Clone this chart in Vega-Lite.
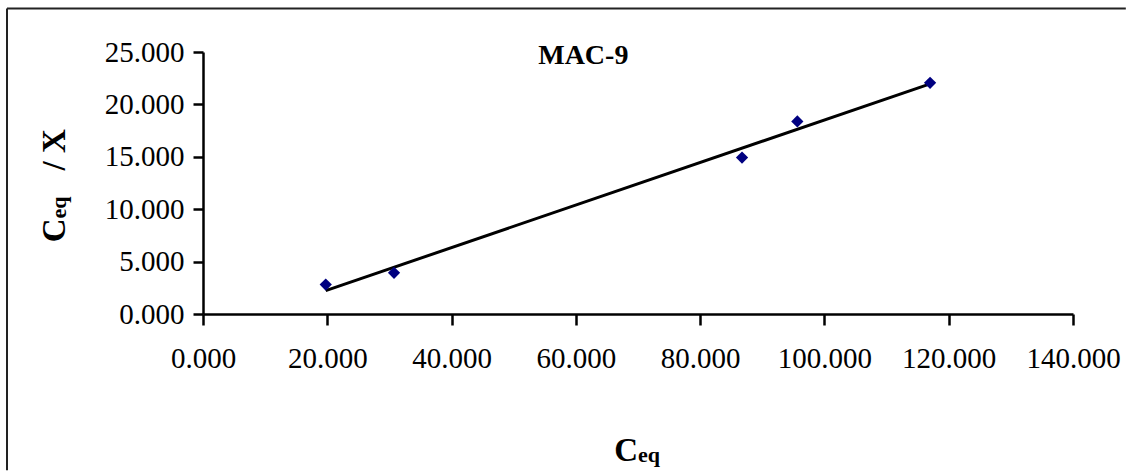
{
  "$schema": "https://vega.github.io/schema/vega-lite/v6.json",
  "width": 870,
  "height": 262,
  "padding": {"left": 6, "top": 7, "right": 0, "bottom": 0},
  "autosize": {"type": "pad"},
  "background": "white",
  "config": {
    "view": {"stroke": null},
    "font": "Liberation Serif",
    "axis": {
      "grid": false,
      "labelFont": "Liberation Serif",
      "labelFontSize": 29,
      "labelColor": "#000",
      "domainColor": "#000",
      "domainWidth": 2.5,
      "tickColor": "#000",
      "tickWidth": 2.5,
      "labelOverlap": false,
      "labelFlush": false,
      "title": null
    }
  },
  "data": {
    "values": [
      {"ceq": 19.75, "ratio": 2.81},
      {"ceq": 30.74, "ratio": 3.93},
      {"ceq": 86.74, "ratio": 14.93},
      {"ceq": 95.64, "ratio": 18.37},
      {"ceq": 117.0, "ratio": 22.06}
    ]
  },
  "layer": [
    {
      "transform": [{"regression": "ratio", "on": "ceq"}],
      "mark": {"type": "line", "color": "#000", "strokeWidth": 3},
      "encoding": {
        "x": {
          "field": "ceq", "type": "quantitative",
          "scale": {"domain": [0, 140], "nice": false, "zero": false},
          "axis": {"values": [0, 20, 40, 60, 80, 100, 120, 140], "format": ".3f", "tickSize": 11, "labelPadding": 19, "title": null}
        },
        "y": {
          "field": "ratio", "type": "quantitative",
          "scale": {"domain": [0, 25], "nice": false, "zero": false},
          "axis": {"values": [0, 5, 10, 15, 20, 25], "format": ".3f", "tickSize": 10, "labelPadding": 9, "title": null}
        }
      }
    },
    {
      "mark": {"type": "point", "shape": "diamond", "filled": true, "color": "#000080", "size": 150, "opacity": 1},
      "encoding": {
        "x": {"field": "ceq", "type": "quantitative"},
        "y": {"field": "ratio", "type": "quantitative"}
      }
    },
    {
      "data": {"values": [{}]},
      "mark": {"type": "rule", "color": "#222", "strokeWidth": 2},
      "encoding": {"x": {"datum": -31.54}, "y": {"datum": 29.15}, "y2": {"datum": -14.9}}
    },
    {
      "data": {"values": [{}]},
      "mark": {"type": "rule", "color": "#222", "strokeWidth": 2},
      "encoding": {"y": {"datum": 29.15}, "x": {"datum": -31.54}, "x2": {"datum": 148.5}}
    },
    {
      "data": {"values": [{}]},
      "mark": {"type": "text", "text": "MAC-9", "font": "Liberation Serif", "fontWeight": "bold", "fontSize": 28, "align": "center", "baseline": "alphabetic", "color": "#000"},
      "encoding": {"x": {"datum": 61.2}, "y": {"datum": 23.9}}
    },
    {
      "data": {"values": [{}]},
      "mark": {"type": "text", "text": "C", "font": "Liberation Serif", "fontWeight": "bold", "fontSize": 33, "align": "right", "baseline": "alphabetic", "color": "#000"},
      "encoding": {"x": {"datum": 70}, "y": {"datum": -14.07}}
    },
    {
      "data": {"values": [{}]},
      "mark": {"type": "text", "text": "eq", "font": "Liberation Serif", "fontWeight": "bold", "fontSize": 22, "align": "left", "baseline": "alphabetic", "color": "#000", "dy": 1},
      "encoding": {"x": {"datum": 70}, "y": {"datum": -14.07}}
    },
    {
      "data": {"values": [{}]},
      "mark": {"type": "text", "text": "C", "font": "Liberation Serif", "fontWeight": "bold", "fontSize": 33, "align": "right", "baseline": "alphabetic", "angle": 270, "color": "#000"},
      "encoding": {"x": {"datum": -22.2}, "y": {"datum": 9.11}}
    },
    {
      "data": {"values": [{}]},
      "mark": {"type": "text", "text": "eq", "font": "Liberation Serif", "fontWeight": "bold", "fontSize": 22, "align": "left", "baseline": "alphabetic", "angle": 270, "color": "#000", "dy": 1},
      "encoding": {"x": {"datum": -22.2}, "y": {"datum": 9.11}}
    },
    {
      "data": {"values": [{}]},
      "mark": {"type": "text", "text": "/ X", "font": "Liberation Serif", "fontWeight": "bold", "fontSize": 33, "align": "left", "baseline": "alphabetic", "angle": 270, "color": "#000", "dx": 48},
      "encoding": {"x": {"datum": -22.2}, "y": {"datum": 9.11}}
    }
  ]
}
